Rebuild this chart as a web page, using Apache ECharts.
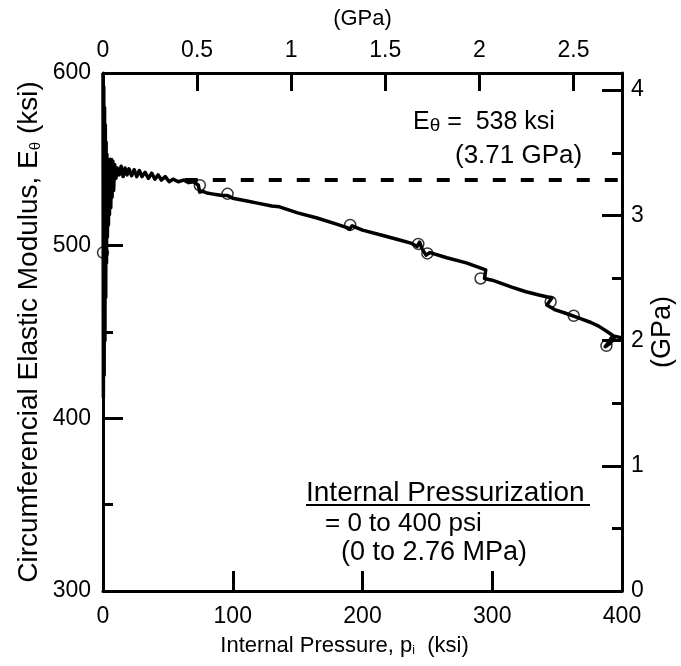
<!DOCTYPE html>
<html>
<head>
<meta charset="utf-8">
<script src="https://cdn.jsdelivr.net/npm/echarts@6/dist/echarts.min.js"></script>
<style>
  html, body { margin: 0; padding: 0; background: #ffffff; }
  #chart { width: 681px; height: 666px; }
</style>
</head>
<body>
<div id="chart"></div>
<script>
// Internal pressure (ksi) and circumferential elastic modulus (ksi) along the test record
const pressureKsi = [
  0, 0.3, 0.6, 0.9, 1.2, 1.5, 1.8, 2.1, 2.4, 2.7, 3.0, 3.4, 3.8, 4.2, 4.6, 5.0, 5.5, 6.0, 6.5, 7.0,
  7.6, 8.2, 9, 10, 11, 12.5, 14, 15.5, 17, 18.5, 20, 22, 24, 26, 28, 30, 32.5, 35, 37.5, 40,
  42.5, 45, 48, 51, 54, 58, 62, 66, 70, 73.5, 74.5, 77, 80,
  84, 88, 92, 96, 100, 110, 120, 130, 136, 150, 165, 180, 188,
  190, 192, 200, 215, 230, 238, 242, 244, 246, 249, 252, 265, 280, 295, 294, 300, 315, 326, 336, 346,
  342, 348, 356, 367, 376, 382, 389, 393, 390, 387, 391, 395, 400
];
const modulusKsi = [
  600, 412, 592, 425, 580, 445, 570, 470, 560, 490, 553, 505, 550, 512, 548, 518, 550, 522, 546, 528,
  549, 532, 547, 539, 545, 541, 546, 540, 545, 541, 544.5, 540.5, 544, 540, 543.5, 540, 542.5, 539, 542, 538.5,
  541, 538, 540, 537, 538.5, 537, 538, 536.5, 537, 535, 531, 531.5, 530.5,
  530, 529.5, 529, 529, 527.5, 526, 524.5, 523, 522.5, 519, 516, 512.5, 510.5,
  509.5, 511.5, 509, 506, 503, 501.3, 499.5, 502, 498, 494.5, 496, 493, 490, 486, 481, 480, 476, 473.3, 471.4, 469.7,
  465.6, 463, 461, 458, 455.5, 453.4, 450, 448, 444.5, 441.5, 443.5, 447.5, 446.5
];

// Unload / reload points, drawn as open circles
const markerPressureKsi = [0, 74.6, 96, 190.5, 243, 250, 291, 345, 362.8, 388];
const markerModulusKsi = [496, 535, 530, 512, 501, 495.5, 481, 467.5, 459.4, 442];

// Plateau modulus reference line
const plateauModulusKsi = 538;
const plateauModulusGPa = 3.71;
const plateauPressureKsi = [63, 400];

// Axis ranges and tick spacing
const pressureKsiRange = [0, 400];
const pressureKsiStep = 100;
const pressureGPaRange = [0, 2.758];
const pressureGPaStep = 0.5;
const modulusKsiRange = [300, 600];
const modulusKsiStep = 100;
const modulusGPaRange = [0, 4.137];
const modulusGPaStep = 1;

// Loading note
const loadingTitle = 'Internal Pressurization';
const loadingRange = '= 0 to 400 psi';
const loadingRangeSI = '(0 to 2.76 MPa)';

const FONT = "'Liberation Sans', Arial, sans-serif";
const INK = '#000000';

const curve = pressureKsi.map((p, i) => [p, modulusKsi[i]]);
const markers = markerPressureKsi.map((p, i) => [p, markerModulusKsi[i]]);
const plateau = plateauPressureKsi.map(p => [p, plateauModulusKsi]);

function frameAxis(extra) {
  return Object.assign({
    type: 'value',
    axisLine: { show: true, onZero: false, lineStyle: { color: INK, width: 3 } },
    axisTick: { show: true, inside: true, length: 20, lineStyle: { color: INK, width: 3 } },
    minorTick: { show: false },
    splitLine: { show: false },
    nameMoveOverlap: false,
    axisLabel: { color: INK, fontFamily: FONT, fontSize: 23, margin: 10 },
    nameTextStyle: { color: INK, fontFamily: FONT, fontSize: 22 }
  }, extra);
}

const option = {
  animation: false,
  backgroundColor: '#ffffff',
  grid: { left: 103, right: 59, top: 73, bottom: 75, containLabel: false, outerBoundsMode: 'none' },
  xAxis: [
    frameAxis({
      position: 'bottom',
      min: pressureKsiRange[0], max: pressureKsiRange[1], interval: pressureKsiStep,
      name: 'Internal Pressure, p{s|i}  (ksi)',
      nameLocation: 'middle', nameGap: 44,
      axisLabel: { color: INK, fontFamily: FONT, fontSize: 23, margin: 14 },
      nameTextStyle: {
        color: INK, fontFamily: FONT, fontSize: 22, padding: [0, 36, 0, 0],
        rich: { s: { fontFamily: FONT, fontSize: 12, color: INK, verticalAlign: 'bottom', padding: [6, 0, 0, 0] } }
      }
    }),
    frameAxis({
      position: 'top',
      min: pressureGPaRange[0], max: pressureGPaRange[1], interval: pressureGPaStep,
      name: '(GPa)',
      nameLocation: 'middle', nameGap: 43,
      axisTick: { show: true, inside: true, length: 18, lineStyle: { color: INK, width: 3 } },
      axisLabel: { color: INK, fontFamily: FONT, fontSize: 23, margin: 11, showMaxLabel: false }
    })
  ],
  yAxis: [
    frameAxis({
      position: 'left',
      min: modulusKsiRange[0], max: modulusKsiRange[1], interval: modulusKsiStep,
      name: 'Circumferencial Elastic Modulus, E{s|θ} (ksi)',
      nameLocation: 'middle', nameGap: 60, nameRotate: 90,
      axisLabel: { color: INK, fontFamily: FONT, fontSize: 23, margin: 12 },
      nameTextStyle: {
        color: INK, fontFamily: FONT, fontSize: 28,
        rich: { s: { fontFamily: FONT, fontSize: 15, color: INK, verticalAlign: 'bottom', padding: [7, 0, 0, 0] } }
      },
      minorTick: { show: true, splitNumber: 2, length: 10, lineStyle: { color: INK, width: 3 } }
    }),
    frameAxis({
      position: 'right',
      min: modulusGPaRange[0], max: modulusGPaRange[1], interval: modulusGPaStep,
      name: '(GPa)',
      nameLocation: 'middle', nameGap: 27, nameRotate: 90,
      axisLabel: { color: INK, fontFamily: FONT, fontSize: 23, margin: 9, showMaxLabel: false },
      nameTextStyle: { color: INK, fontFamily: FONT, fontSize: 27 },
      minorTick: { show: true, splitNumber: 2, length: 10, lineStyle: { color: INK, width: 3 } }
    })
  ],
  series: [
    {
      type: 'line',
      xAxisIndex: 0, yAxisIndex: 0,
      data: plateau,
      showSymbol: false,
      lineStyle: { color: INK, width: 4, type: [13, 15] },
      z: 2
    },
    {
      type: 'line',
      xAxisIndex: 0, yAxisIndex: 0,
      data: curve,
      showSymbol: false,
      smooth: false,
      lineStyle: { color: INK, width: 3.5, join: 'round' },
      z: 3
    },
    {
      type: 'scatter',
      xAxisIndex: 0, yAxisIndex: 0,
      data: markers,
      symbol: 'circle',
      symbolSize: 11,
      clip: false,
      itemStyle: { color: 'rgba(255,255,255,0)', borderColor: INK, borderWidth: 1.5 },
      z: 4
    }
  ],
  graphic: [
    {
      type: 'text', x: 413, y: 122,
      style: {
        text: 'E{s|θ} =  ' + plateauModulusKsi + ' ksi',
        font: '25px ' + FONT, fill: INK, align: 'left', verticalAlign: 'middle',
        rich: { s: { fontFamily: FONT, fontSize: 19, fill: INK, verticalAlign: 'bottom', padding: [8, 0, 0, 0] } }
      }
    },
    {
      type: 'text', x: 455, y: 156,
      style: { text: '(' + plateauModulusGPa + ' GPa)', font: '26px ' + FONT, fill: INK, align: 'left', verticalAlign: 'middle' }
    },
    {
      type: 'text', x: 306, y: 493,
      style: { text: loadingTitle, font: '28px ' + FONT, fill: INK, align: 'left', verticalAlign: 'middle' }
    },
    {
      type: 'line',
      shape: { x1: 306, y1: 505, x2: 590, y2: 505 },
      style: { stroke: INK, lineWidth: 2 }
    },
    {
      type: 'text', x: 325, y: 524,
      style: { text: loadingRange, font: '26px ' + FONT, fill: INK, align: 'left', verticalAlign: 'middle' }
    },
    {
      type: 'text', x: 341, y: 553,
      style: { text: loadingRangeSI, font: '27px ' + FONT, fill: INK, align: 'left', verticalAlign: 'middle' }
    }
  ]
};

const chart = echarts.init(document.getElementById('chart'), null, { renderer: 'canvas' });
chart.setOption(option);
</script>
</body>
</html>
